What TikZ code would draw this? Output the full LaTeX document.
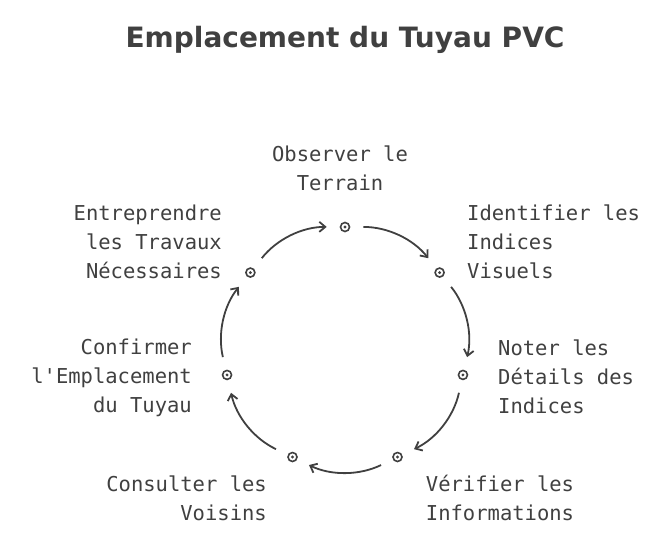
\documentclass[tikz,border=0pt]{standalone}
\usepackage{fontspec}
\setmainfont{DejaVu Sans}
\newfontfamily\handfont{DejaVu Sans Mono}
\usetikzlibrary{arrows.meta}
\tikzset{
  lbl/.style={font=\handfont\fontsize{20.5}{29}\selectfont, text=black!75, inner sep=0pt},
  dot/.style={circle, draw=black!75, line width=1.6pt, inner sep=0pt, minimum size=9pt, fill=white},
  flow/.style={draw=black!75, line width=1.8pt, -{Straight Barb[length=6pt,width=10pt]}, shorten <=13pt, shorten >=13pt, bend left=26}
}
\begin{document}
\begin{tikzpicture}[x=1pt,y=-1pt]
		\useasboundingbox (0,0) rectangle (660,540);
		% Titre
		\node [lbl, font=\fontsize{28}{32}\selectfont\bfseries] (title) at (345,40) {Emplacement du Tuyau PVC};
		% Points sur le cercle
		\foreach \i in {0,...,6} {
			\pgfmathsetmacro\ang{90-\i*360/7}
			\node [dot] (p\i) at ({345+121*cos(\ang)},{348-121*sin(\ang)}) {};
			\fill [black!75] (p\i) circle [radius=1.6];
		}
		% Fleches
		\foreach \i [evaluate=\i as \j using {int(mod(\i+1,7))}] in {0,...,6} {
			\draw [flow] (p\i) to (p\j);
		}
		% Etiquettes
		\node [lbl, align=center] (t0) at (340,168) {Observer le\\Terrain};
		\node [lbl, align=left, anchor=west] (t1) at (467,242) {Identifier les\\Indices\\Visuels};
		\node [lbl, align=left, anchor=west] (t2) at (498,377) {Noter les\\Détails des\\Indices};
		\node [lbl, align=center] (t3) at (500,498) {Vérifier les\\Informations};
		\node [lbl, align=right, anchor=east] (t4) at (267,498) {Consulter les\\Voisins};
		\node [lbl, align=right, anchor=east] (t5) at (192,378) {Confirmer\\l'Emplacement\\du Tuyau};
		\node [lbl, align=right, anchor=east] (t6) at (222,242) {Entreprendre\\les Travaux\\Nécessaires};
\end{tikzpicture}
\end{document}
